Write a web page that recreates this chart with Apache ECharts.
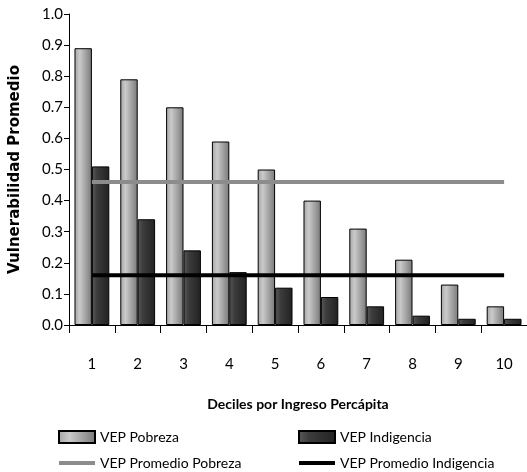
<!DOCTYPE html>
<html>
<head>
<meta charset="utf-8">
<script src="https://cdn.jsdelivr.net/npm/echarts@6/dist/echarts.min.js"></script>
<style>
  html, body { margin: 0; padding: 0; background: #fff; }
  #chart { width: 527px; height: 472px; }
</style>
</head>
<body>
<div id="chart"></div>
<script>
// datos
var deciles = ['1', '2', '3', '4', '5', '6', '7', '8', '9', '10'];
var vepPobreza = [0.89, 0.79, 0.70, 0.59, 0.50, 0.40, 0.31, 0.21, 0.13, 0.06];
var vepIndigencia = [0.51, 0.34, 0.24, 0.17, 0.12, 0.09, 0.06, 0.03, 0.02, 0.02];
var promedioPobreza = 0.46;
var promedioIndigencia = 0.16;

var fuente = 'Lato';

function gradiente(c0, c1, c2) {
  return new echarts.graphic.LinearGradient(0, 0, 1, 0, [
    { offset: 0, color: c0 },
    { offset: 0.3, color: c1 },
    { offset: 1, color: c2 }
  ]);
}

var chart = echarts.init(document.getElementById('chart'));

var leyendaBase = {
  top: 430, orient: 'vertical', padding: 0,
  itemWidth: 36, itemHeight: 12, itemGap: 12,
  textStyle: { fontFamily: fuente, fontSize: 14, color: '#000' }
};

var option = {
  animation: false,
  textStyle: { fontFamily: fuente, color: '#000' },
  grid: { left: 66, right: 0, top: 14, bottom: 147 },
  legend: [
    Object.assign({}, leyendaBase, {
      left: 57,
      data: [
        { name: 'VEP Pobreza', icon: 'rect' },
        { name: 'VEP Promedio Pobreza', itemStyle: { opacity: 0 }, lineStyle: { width: 4 } }
      ]
    }),
    Object.assign({}, leyendaBase, {
      left: 297,
      data: [
        { name: 'VEP Indigencia', icon: 'rect' },
        { name: 'VEP Promedio Indigencia', itemStyle: { opacity: 0 }, lineStyle: { width: 4 } }
      ]
    })
  ],
  xAxis: {
    type: 'category',
    data: deciles,
    name: 'Deciles por Ingreso Percápita',
    nameLocation: 'middle',
    nameGap: 72,
    nameTextStyle: { fontFamily: fuente, fontSize: 14, fontWeight: 'bold', color: '#000' },
    axisLine: { lineStyle: { color: '#000', width: 1 } },
    axisTick: { show: true, inside: false, length: 8, lineStyle: { color: '#000' } },
    axisLabel: { fontSize: 15, color: '#000', margin: 32 }
  },
  yAxis: {
    type: 'value',
    min: 0, max: 1, interval: 0.1,
    name: 'Vulnerabilidad Promedio',
    nameLocation: 'middle',
    nameGap: 46,
    nameTextStyle: { fontFamily: 'DejaVu Sans', fontSize: 15, fontWeight: 'bold', color: '#000' },
    splitLine: { show: false },
    axisLine: { show: true, lineStyle: { color: '#000', width: 1 } },
    axisTick: { show: true, length: 5, lineStyle: { color: '#000' } },
    axisLabel: { fontSize: 15, color: '#000', margin: 6, formatter: function (v) { return v.toFixed(1); } }
  },
  series: [
    {
      name: 'VEP Pobreza',
      type: 'bar',
      data: vepPobreza,
      barGap: '0%',
      barCategoryGap: '24%',
      itemStyle: {
        color: gradiente('#a4a4a4', '#cacaca', '#787878'),
        borderColor: '#000',
        borderWidth: 1
      }
    },
    {
      name: 'VEP Indigencia',
      type: 'bar',
      data: vepIndigencia,
      itemStyle: {
        color: gradiente('#5a5a5a', '#3c3c3c', '#222222'),
        borderColor: '#000',
        borderWidth: 1
      }
    },
    {
      name: 'VEP Promedio Pobreza',
      type: 'line',
      data: deciles.map(function () { return promedioPobreza; }),
      symbol: 'none',
      itemStyle: { color: '#8c8c8c' },
      lineStyle: { color: '#8c8c8c', width: 4 },
      z: 5
    },
    {
      name: 'VEP Promedio Indigencia',
      type: 'line',
      data: deciles.map(function () { return promedioIndigencia; }),
      symbol: 'none',
      itemStyle: { color: '#000' },
      lineStyle: { color: '#000', width: 4 },
      z: 5
    }
  ]
};

chart.setOption(option);
</script>
</body>
</html>
